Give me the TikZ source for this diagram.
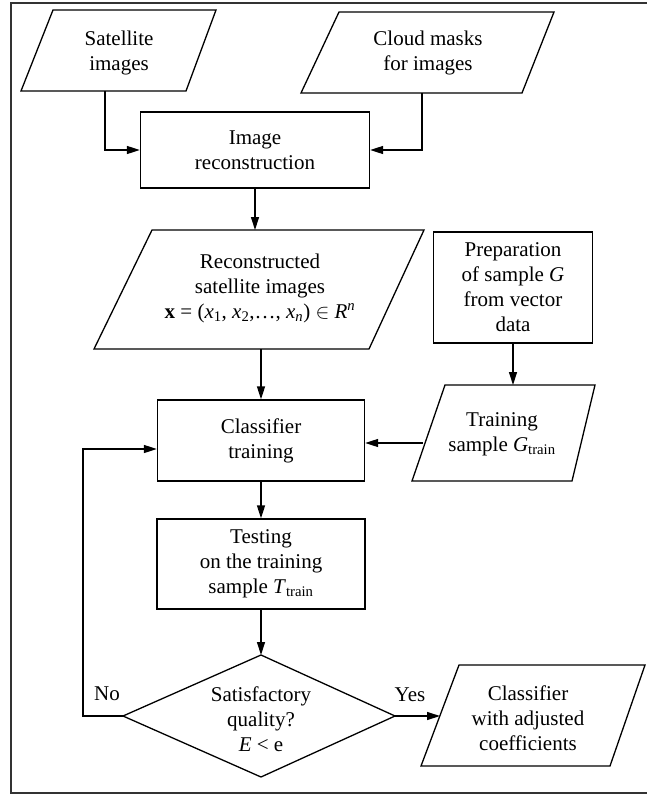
\documentclass[tikz,border=0pt]{standalone}
\usepackage{fontspec}
\setmainfont{Liberation Serif}
\usetikzlibrary{arrows.meta,calc}
\begin{document}
\begin{tikzpicture}[x=1pt,y=-1pt,
  every node/.style={font=\fontsize{21}{25}\selectfont, align=center, inner sep=0pt},
  boxnode/.style={draw, line width=1.3pt, minimum width=#1},
  shapeline/.style={draw, line width=1.3pt, line join=miter},
  arr/.style={line width=1.3pt, -{Triangle[length=13pt,width=8pt]}},
  lbl/.style={font=\fontsize{21}{25}\selectfont}
]
\useasboundingbox (0,0) rectangle (646,795);
% outer frame (right side cropped)
\draw[line width=2pt, black!80] (11,3) rectangle (680,793);

% Satellite images
\draw[shapeline] (53,10) -- (216,10) -- (186,91) -- (21,91) -- cycle;
\node (sat) at (119,53) {Satellite\\images};
\coordinate (satB) at (105,91);

% Cloud masks
\draw[shapeline] (339,12) -- (554,12) -- (522,93) -- (301,93) -- cycle;
\node (cloud) at (428,53) {Cloud masks\\for images};
\coordinate (cloudB) at (422,93);

% Image reconstruction
\node[boxnode=229pt, minimum height=76pt] (recon) at (255,150) {Image\\reconstruction};

% Reconstructed satellite images
\draw[shapeline] (152,230) -- (424,230) -- (369,349) -- (94,349) -- cycle;
\node (rsat) at (260,288) {Reconstructed\\satellite images\\\textbf{x} = (\textit{x}\textsubscript{1}, \textit{x}\textsubscript{2},\ldots, \textit{x}\textsubscript{\textit{n}}) $\in$ \textit{R}\textsuperscript{\textit{n}}};
\coordinate (rsatT) at (255,230);
\coordinate (rsatB) at (261,349);

% Preparation of sample G
\node[boxnode=159pt, minimum height=111pt] (prep) at (513,287.5) {Preparation\\of sample \textit{G}\\from vector\\data};

% Training sample
\draw[shapeline] (445,385) -- (595,385) -- (572,481) -- (412,481) -- cycle;
\node (tsamp) at (502,434) {Training\\sample \textit{G}\textsubscript{train}};
\coordinate (tsampT) at (513,385);
\coordinate (tsampL) at (423,443);

% Classifier training
\node[boxnode=207pt, minimum height=81pt] (cls) at (261,440.5) {Classifier\\training};

% Testing
\node[boxnode=208pt, minimum height=90pt] (test) at (261,564) {Testing\\on the training\\sample \textit{T}\textsubscript{train}};

% Decision diamond
\coordinate (dT) at (261,655);
\coordinate (dL) at (123,716);
\coordinate (dR) at (395,716);
\coordinate (dB) at (261,777);
\draw[shapeline] (dT) -- (dR) -- (dB) -- (dL) -- cycle;
\node (dec) at (261,719) {Satisfactory\\quality?\\\textit{E} < e};

% Output
\draw[shapeline] (459,665) -- (645,665) -- (610,766) -- (421,766) -- cycle;
\node (out) at (528,718) {Classifier\\with adjusted\\coefficients};
\coordinate (outL) at (440,716);

% connectors
\draw[arr] (satB) |- (recon.west);
\draw[arr] (cloudB) |- (recon.east);
\draw[arr] (recon.south) -- (recon.south |- rsatT);
\draw[arr] (rsatB) -- (rsatB |- cls.north);
\draw[arr] (prep.south) -- (tsampT);
\draw[arr] (tsampL) -- (tsampL -| cls.east);
\draw[arr] (cls.south) -- (test.north);
\draw[arr] (test.south) -- (dT);
\draw[arr] (dR) -- (outL);
\coordinate (loopX) at (83,716);
\draw[arr] (dL) -- (loopX) |- ($(cls.west)+(0,8.5)$);

% labels
\node[lbl] (no) at (107,694) {No};
\node[lbl] (yes) at (410,695) {Yes};
\end{tikzpicture}
\end{document}
